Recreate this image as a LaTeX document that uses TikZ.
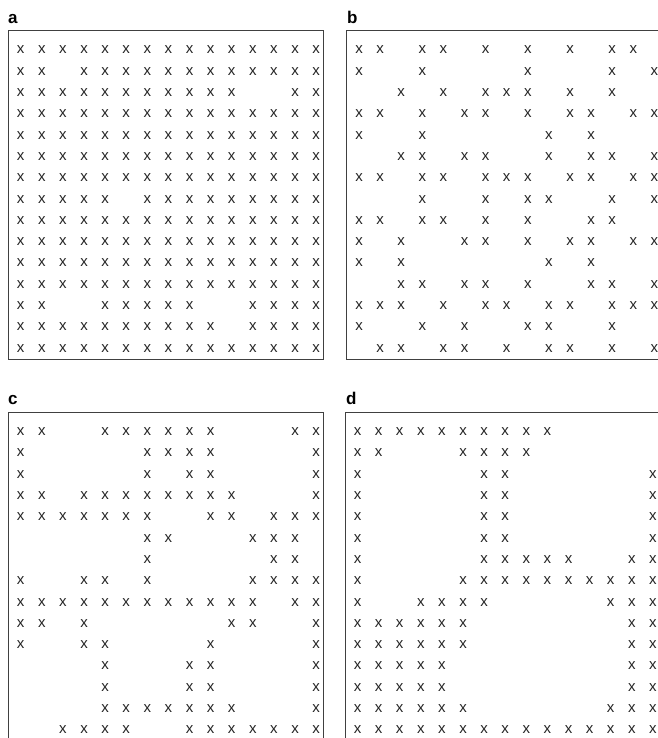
\documentclass[tikz,border=0pt]{standalone}
\usepackage{fontspec}
\setmainfont{Liberation Sans}

\begin{document}
\begin{tikzpicture}[
    x=1pt, y=-1pt,
    cross/.style={inner sep=0pt, font=\fontsize{15}{15}\selectfont, text=black!85},
    paneltag/.style={inner sep=0pt, anchor=base west, font=\fontsize{17}{17}\selectfont\bfseries},
    panelbox/.style={draw=black!75, line width=1pt, anchor=north west, inner sep=0pt,
                     minimum width=315pt, minimum height=328pt}
]
    \useasboundingbox (0,0) rectangle (657,738);

    % Panel a
    \node[paneltag] (tag-a) at (8,23.5) {a};
    \foreach \r/\cols in {1/{1,...,15}, 2/{1,2,4,5,...,15}, 3/{1,...,11,14,15},
                          4/{1,...,15}, 5/{1,...,15}, 6/{1,...,15}, 7/{1,...,15},
                          8/{1,...,5,7,8,...,15}, 9/{1,...,15}, 10/{1,...,15},
                          11/{1,...,15}, 12/{1,...,15}, 13/{1,2,5,6,7,8,9,12,13,14,15},
                          14/{1,...,10,12,13,14,15}, 15/{1,...,15}}
        \foreach \c in \cols
            \node[cross] (a-\r-\c) at ({20.7+21.1*(\c-1)}, {50+21.3*(\r-1)}) {x};
    \node[panelbox] (box-a) at (7.5,30.5) {};

    % Panel b
    \node[paneltag] (tag-b) at (347,23.5) {b};
    \foreach \r/\cols in {1/{1,2,4,5,7,9,11,13,14}, 2/{1,4,9,13,15}, 3/{3,5,7,8,9,11,13},
                          4/{1,2,4,6,7,9,11,12,14,15}, 5/{1,4,10,12},
                          6/{3,4,6,7,10,12,13,15}, 7/{1,2,4,5,7,8,9,11,12,14,15},
                          8/{4,7,9,10,13,15}, 9/{1,2,4,5,7,9,12,13},
                          10/{1,3,6,7,9,11,12,14,15}, 11/{1,3,10,12},
                          12/{3,4,6,7,9,12,13,15}, 13/{1,2,3,5,7,8,10,11,13,14,15},
                          14/{1,4,6,9,10,13}, 15/{2,3,5,6,8,10,11,13,15}}
        \foreach \c in \cols
            \node[cross] (b-\r-\c) at ({359+21.1*(\c-1)}, {50+21.3*(\r-1)}) {x};
    \node[panelbox] (box-b) at (346,30.5) {};

    % Panel c
    \node[paneltag] (tag-c) at (8,404.5) {c};
    \foreach \r/\cols in {1/{1,2,5,6,7,8,9,10,14,15}, 2/{1,7,8,9,10,15}, 3/{1,7,9,10,15},
                          4/{1,2,4,5,6,7,8,9,10,11,15}, 5/{1,2,3,4,5,6,7,10,11,13,14,15},
                          6/{7,8,12,13,14}, 7/{7,13,14}, 8/{1,4,5,7,12,13,14,15},
                          9/{1,...,12,14,15}, 10/{1,2,4,11,12,15}, 11/{1,4,5,10,15},
                          12/{5,9,10,15}, 13/{5,9,10,15}, 14/{5,6,7,8,9,10,11,15},
                          15/{3,4,5,6,9,10,11,12,13,14,15}}
        \foreach \c in \cols
            \node[cross] (c-\r-\c) at ({20.7+21.1*(\c-1)}, {431.7+21.3*(\r-1)}) {x};
    \node[panelbox] (box-c) at (7.5,412) {};

    % Panel d
    \node[paneltag] (tag-d) at (346,404.5) {d};
    \foreach \r/\cols in {1/{1,...,10}, 2/{1,2,6,7,8,9}, 3/{1,7,8,15}, 4/{1,7,8,15},
                          5/{1,7,8,15}, 6/{1,7,8,15}, 7/{1,7,8,9,10,11,14,15},
                          8/{1,6,7,8,...,15}, 9/{1,4,5,6,7,13,14,15},
                          10/{1,...,6,14,15}, 11/{1,...,6,14,15}, 12/{1,...,5,14,15},
                          13/{1,...,5,14,15}, 14/{1,...,6,13,14,15}, 15/{1,...,15}}
        \foreach \c in \cols
            \node[cross] (d-\r-\c) at ({357.5+21.1*(\c-1)}, {431.7+21.3*(\r-1)}) {x};
    \node[panelbox] (box-d) at (344.5,412) {};

\end{tikzpicture}
\end{document}
